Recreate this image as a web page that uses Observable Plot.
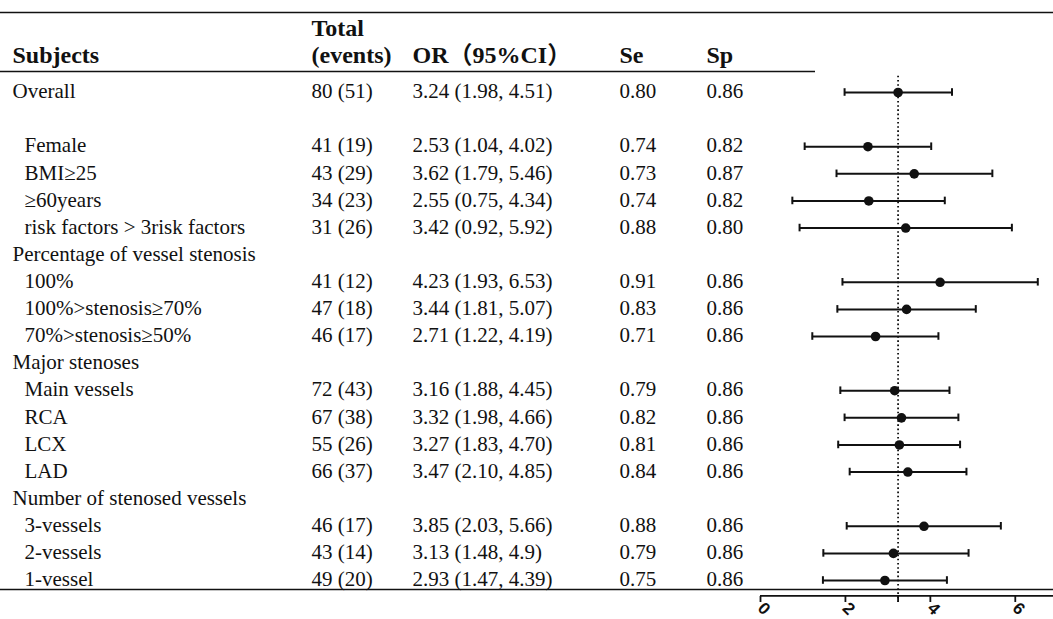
<!DOCTYPE html>
<html>
<head>
<meta charset="utf-8">
<script src="https://cdn.jsdelivr.net/npm/d3@7"></script>
<script src="https://cdn.jsdelivr.net/npm/@observablehq/plot@0.6"></script>
<style>
  html, body { margin: 0; padding: 0; background: #fff; }
  #chart svg { display: block; }
</style>
</head>
<body>
<div id="chart"></div>
<script>
// ---- Table data (one entry per row; "" marks a spacer row) ----
const subjects = [
  "Overall", "", "Female", "BMI≥25", "≥60years", "risk factors > 3risk factors",
  "Percentage of vessel stenosis", "100%", "100%>stenosis≥70%", "70%>stenosis≥50%",
  "Major stenoses", "Main vessels", "RCA", "LCX", "LAD",
  "Number of stenosed vessels", "3-vessels", "2-vessels", "1-vessel"
];
// 0 = top-level label, 1 = indented sub-item
const indentLevel = [0, 0, 1, 1, 1, 1, 0, 1, 1, 1, 0, 1, 1, 1, 1, 0, 1, 1, 1];
const totals = [80, null, 41, 43, 34, 31, null, 41, 47, 46, null, 72, 67, 55, 66, null, 46, 43, 49];
const events = [51, null, 19, 29, 23, 26, null, 12, 18, 17, null, 43, 38, 26, 37, null, 17, 14, 20];
// Odds ratios and 95% CI bounds, kept as printed
const orValues = ["3.24", null, "2.53", "3.62", "2.55", "3.42", null, "4.23", "3.44", "2.71", null, "3.16", "3.32", "3.27", "3.47", null, "3.85", "3.13", "2.93"];
const ciLow = ["1.98", null, "1.04", "1.79", "0.75", "0.92", null, "1.93", "1.81", "1.22", null, "1.88", "1.98", "1.83", "2.10", null, "2.03", "1.48", "1.47"];
const ciHigh = ["4.51", null, "4.02", "5.46", "4.34", "5.92", null, "6.53", "5.07", "4.19", null, "4.45", "4.66", "4.70", "4.85", null, "5.66", "4.9", "4.39"];
const sensitivity = ["0.80", null, "0.74", "0.73", "0.74", "0.88", null, "0.91", "0.83", "0.71", null, "0.79", "0.82", "0.81", "0.84", null, "0.88", "0.79", "0.75"];
const specificity = ["0.86", null, "0.82", "0.87", "0.82", "0.80", null, "0.86", "0.86", "0.86", null, "0.86", "0.86", "0.86", "0.86", null, "0.86", "0.86", "0.86"];

// Column headers (second header line) and the extra first line above "(events)"
const headers = ["Subjects", "(events)", "OR（95%CI）", "Se", "Sp"];
const headersLine1 = ["", "Total", "", "", ""];
const xTicks = [0, 2, 4, 6];
const referenceOR = orValues[0]; // overall odds ratio

// ---- Layout ----
const W = 1053, H = 619;
const layout = {
  columnDx: [12, 311, 412, 619, 706], // left edge of each text column
  indentDx: 12,
  headerRow: -1.36,
  topRule: -2.95,
  headerRule: -0.775,
  bottomRule: 18.33,
  axisRow: 18.57,
  refTop: -0.6,
  refBottom: 18.8,
  capHalf: 0.14
};

const rows = subjects.map((label, i) => ({
  i,
  label,
  indent: indentLevel[i],
  total: totals[i] == null ? "" : `${totals[i]} (${events[i]})`,
  orText: orValues[i] == null ? "" : `${orValues[i]} (${ciLow[i]}, ${ciHigh[i]})`,
  se: sensitivity[i] ?? "",
  sp: specificity[i] ?? "",
  or: orValues[i] == null ? null : +orValues[i],
  lo: ciLow[i] == null ? null : +ciLow[i],
  hi: ciHigh[i] == null ? null : +ciHigh[i]
}));
const estimates = rows.filter(d => d.or != null);
const headerCells = headers.map((text, c) => ({c, text, line: 0}))
  .concat(headersLine1.map((text, c) => ({c, text, line: -1})))
  .filter(d => d.text);

const serif = "'Liberation Serif', 'Times New Roman', 'Noto Sans CJK SC', serif";
const bodyText = {frameAnchor: "left", textAnchor: "start", lineAnchor: "middle", fontSize: 21, fontFamily: serif, fill: "#111", dy: -1};
const headText = {frameAnchor: "left", textAnchor: "start", lineAnchor: "middle", fontSize: 24, fontWeight: "bold", fontFamily: serif, fill: "#111"};

const columnFields = ["label", "total", "orText", "se", "sp"];

const chart = Plot.plot({
  width: W,
  height: H,
  marginTop: 0,
  marginLeft: 0,
  marginRight: 0,
  marginBottom: 23,
  x: {domain: [0, 6.9], range: [760, W]},
  y: {domain: [0, 18], range: [92, 580], axis: null},
  style: {background: "#fff"},
  marks: [
    // table rules
    Plot.ruleY([layout.topRule], {stroke: "#111", strokeWidth: 1.6}),
    Plot.ruleY([layout.headerRule], {stroke: "#111", strokeWidth: 1.4, insetRight: W - 815}),
    Plot.ruleY([layout.bottomRule], {stroke: "#111", strokeWidth: 1.6}),

    // header cells, one mark per column
    ...headers.map((_, c) => Plot.text(headerCells.filter(d => d.c === c), {
      ...headText,
      y: d => layout.headerRow + d.line,
      text: "text",
      dx: layout.columnDx[c]
    })),

    // subject labels: top-level and indented
    Plot.text(rows.filter(d => d.indent === 0), {...bodyText, y: "i", text: "label", dx: layout.columnDx[0]}),
    Plot.text(rows.filter(d => d.indent === 1), {...bodyText, y: "i", text: "label", dx: layout.columnDx[0] + layout.indentDx}),

    // remaining columns
    ...columnFields.slice(1).map((f, k) => Plot.text(rows, {
      ...bodyText,
      y: "i",
      text: f,
      dx: layout.columnDx[k + 1]
    })),

    // reference line at the overall OR
    Plot.ruleX([referenceOR], {
      x: d => +d, y1: layout.refTop, y2: layout.refBottom,
      stroke: "#111", strokeWidth: 1.8, strokeDasharray: "1.6 2.6"
    }),

    // confidence intervals with end caps
    Plot.ruleY(estimates, {y: "i", x1: "lo", x2: "hi", stroke: "#111", strokeWidth: 2}),
    Plot.ruleX(estimates, {x: "lo", y1: d => d.i - layout.capHalf, y2: d => d.i + layout.capHalf, stroke: "#111", strokeWidth: 2}),
    Plot.ruleX(estimates, {x: "hi", y1: d => d.i - layout.capHalf, y2: d => d.i + layout.capHalf, stroke: "#111", strokeWidth: 2}),
    Plot.dot(estimates, {x: "or", y: "i", r: 4.8, fill: "#111", stroke: "none"}),

    // x axis
    Plot.ruleY([layout.axisRow], {x1: 0, x2: 6.9, stroke: "#111", strokeWidth: 1.8}),
    Plot.axisX(xTicks, {
      anchor: "bottom", tickSize: 6, tickPadding: 3, tickRotate: 45,
      strokeWidth: 1.8, stroke: "#111", fill: "#111",
      fontSize: 17, fontWeight: "bold", fontFamily: "'Liberation Sans', Arial, sans-serif"
    }),
    Plot.axisX([+referenceOR], {anchor: "bottom", tickSize: 6, strokeWidth: 1.8, stroke: "#111", tickFormat: () => ""})
  ]
});

document.getElementById("chart").append(chart);
</script>
</body>
</html>
